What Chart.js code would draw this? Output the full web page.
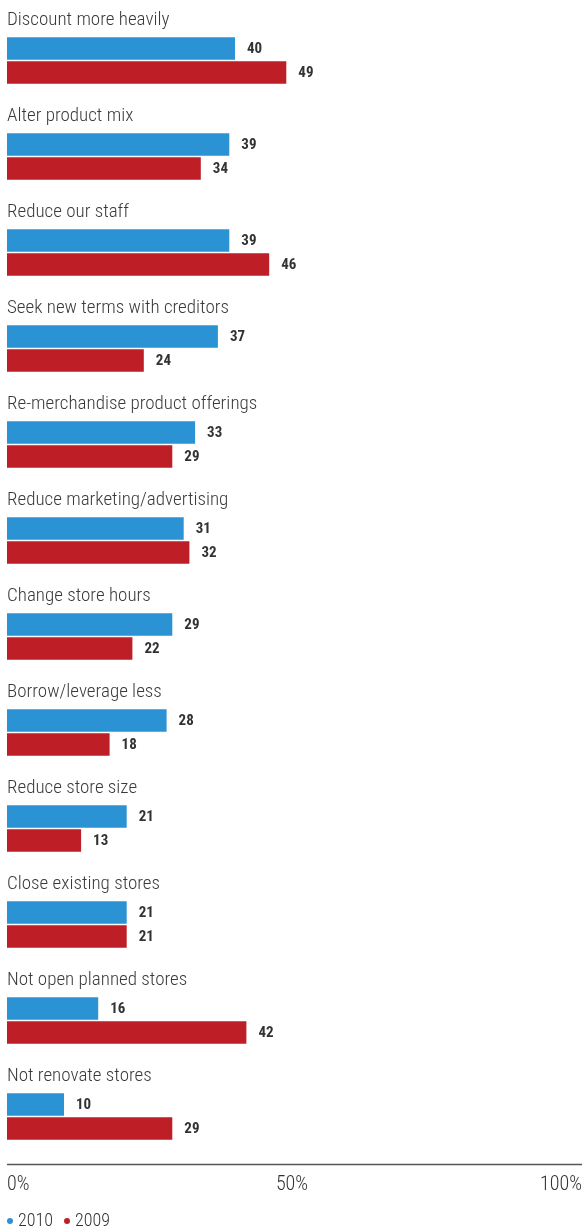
<!DOCTYPE html>
<html>
<head>
<meta charset="utf-8">
<script src="https://cdn.jsdelivr.net/npm/chart.js@4/dist/chart.umd.min.js"></script>
<style>
  html, body { margin: 0; padding: 0; background: #fff; }
  #wrap { width: 582px; height: 1231px; position: relative; }
</style>
</head>
<body>
<div id="wrap"><canvas id="actions"></canvas></div>
<script>
var categories = [
  'Discount more heavily',
  'Alter product mix',
  'Reduce our staff',
  'Seek new terms with creditors',
  'Re-merchandise product offerings',
  'Reduce marketing/advertising',
  'Change store hours',
  'Borrow/leverage less',
  'Reduce store size',
  'Close existing stores',
  'Not open planned stores',
  'Not renovate stores'
];
var values2010 = [40, 39, 39, 37, 33, 31, 29, 28, 21, 21, 16, 10];
var values2009 = [49, 34, 46, 24, 29, 32, 22, 18, 13, 21, 42, 29];
var xTicks = [0, 50, 100];

var FONT = 'Roboto, "Open Sans", sans-serif';
var BLUE = '#2b93d4';
var RED = '#be1e26';

// category names above each pair, numbers after each bar,
// bottom axis with its labels, and the legend
var decorations = {
  id: 'decorations',
  afterDatasetsDraw: function(chart) {
    var ctx = chart.ctx;
    var area = chart.chartArea;
    var xScale = chart.scales.x;
    var yScale = chart.scales.y;
    ctx.save();

    ctx.fillStyle = '#3a3a3a';
    ctx.font = 'condensed 300 19px ' + FONT;
    ctx.textAlign = 'left';
    ctx.textBaseline = 'alphabetic';
    for (var i = 0; i < categories.length; i++) {
      ctx.fillText(categories[i], area.left, yScale.getPixelForValue(i) - 35.5);
    }

    ctx.fillStyle = '#333';
    ctx.font = 'condensed bold 15px ' + FONT;
    ctx.textBaseline = 'middle';
    chart.data.datasets.forEach(function(ds, d) {
      chart.getDatasetMeta(d).data.forEach(function(bar, j) {
        ctx.fillText(String(ds.data[j]), bar.x + 12, bar.y + 1);
      });
    });

    ctx.strokeStyle = '#555';
    ctx.lineWidth = 1.5;
    ctx.beginPath();
    ctx.moveTo(area.left, area.bottom);
    ctx.lineTo(chart.width, area.bottom);
    ctx.stroke();

    ctx.fillStyle = '#333';
    ctx.font = 'condensed 300 20px ' + FONT;
    xTicks.forEach(function(v, k) {
      var px = xScale.getPixelForValue(v);
      if (k === 0) {
        ctx.textAlign = 'left';
      } else if (k === xTicks.length - 1) {
        ctx.textAlign = 'right';
        px = chart.width;
      } else {
        ctx.textAlign = 'center';
      }
      ctx.fillText(v + '%', px, area.bottom + 20);
    });

    // legend
    var ly = chart.height - 10;
    var x = area.left + 3;
    ctx.font = 'condensed 300 18px ' + FONT;
    ctx.textAlign = 'left';
    chart.data.datasets.forEach(function(ds) {
      ctx.fillStyle = ds.backgroundColor;
      ctx.beginPath();
      ctx.arc(x, ly, 3, 0, Math.PI * 2);
      ctx.fill();
      ctx.fillStyle = '#333';
      ctx.fillText(ds.label, x + 8, ly);
      x += 8 + ctx.measureText(ds.label).width + 14;
    });

    ctx.restore();
  }
};

document.addEventListener('DOMContentLoaded', function() {
  new Chart(document.getElementById('actions'), {
    type: 'bar',
    data: {
      labels: categories,
      datasets: [{
        label: '2010',
        data: values2010,
        backgroundColor: BLUE,
        categoryPercentage: 0.5,
        barPercentage: 0.94
      }, {
        label: '2009',
        data: values2009,
        backgroundColor: RED,
        categoryPercentage: 0.5,
        barPercentage: 0.94
      }]
    },
    options: {
      indexAxis: 'y',
      responsive: true,
      maintainAspectRatio: false,
      animation: false,
      layout: {
        padding: { left: 7, right: 5, top: 12.5, bottom: 66.5 }
      },
      plugins: {
        legend: { display: false },
        tooltip: { enabled: false }
      },
      scales: {
        y: { display: false },
        x: { display: false, min: 0, max: 100 }
      }
    },
    plugins: [decorations]
  });
});
</script>
</body>
</html>
